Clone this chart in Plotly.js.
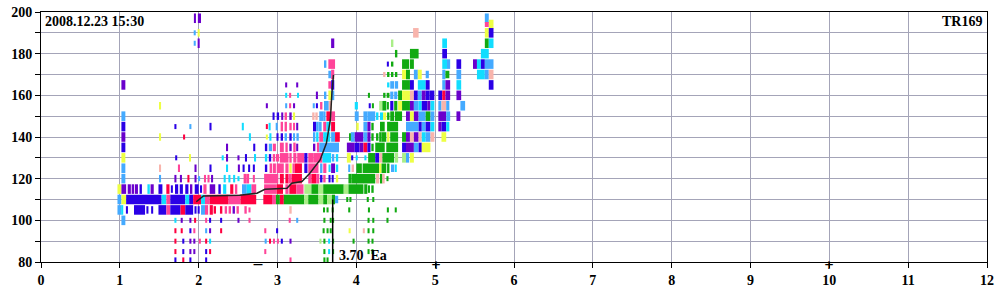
<!DOCTYPE html>
<html><head><meta charset="utf-8">
<script src="https://cdn.plot.ly/plotly-3.0.1.min.js"></script>
<style>html,body{margin:0;padding:0;background:#fff}#chart{width:1000px;height:300px}</style>
</head><body><div id="chart"></div>
<script>
// Echo colour codes
const palette = {B:'#2a00e6',P:'#6a00cc',L:'#44aaff',C:'#11ddff',R:'#ff0040',K:'#ff4499',S:'#f8b4ac',G:'#11aa11',Q:'#aaee88',Y:'#eeff44'};

// Echoes per virtual-height row: [freqStart MHz, freqEnd MHz, colour, amplitude class]
const r197 = [[1.94,1.965,'P',3],[1.99,2.03,'P',3],[5.63,5.68,'L',3]];
const r194 = [[5.68,5.74,'Y',3],[5.63,5.68,'K',1]];
const r190 = [[1.94,1.96,'L',1],[1.99,2.01,'Y',2],[4.72,4.79,'S',3],[5.63,5.68,'Y',3],[5.68,5.74,'B',3]];
const r185 = [[1.94,1.96,'L',1],[1.99,2.01,'P',3],[3.68,3.72,'P',3],[4.44,4.47,'Q',2],[5.09,5.15,'C',3],[5.63,5.68,'G',3],[5.68,5.74,'C',3]];
const r180 = [[4.49,4.52,'G',2],[4.68,4.79,'G',3],[5.09,5.15,'B',3],[5.58,5.68,'C',3]];
const r175 = [[3.59,3.62,'L',2],[3.645,3.73,'K',3],[4.39,4.41,'B',1],[4.44,4.47,'G',1],[4.58,4.67,'G',3],[4.68,4.73,'G',3],[5.09,5.15,'C',3],[5.15,5.19,'L',3],[5.27,5.33,'B',3],[5.48,5.53,'P',3],[5.53,5.58,'C',3],[5.58,5.63,'B',3],[5.63,5.74,'L',3]];
const r170 = [[3.645,3.68,'L',2],[3.68,3.72,'K',3],[4.34,4.37,'S',1],[4.39,4.42,'G',1],[4.44,4.47,'G',1],[4.49,4.52,'G',1],[4.58,4.63,'Y',3],[4.63,4.68,'G',3],[4.73,4.78,'L',3],[4.78,4.83,'Y',3],[4.88,4.92,'L',2],[5.09,5.13,'L',3],[5.13,5.18,'G',2],[5.27,5.33,'L',3],[5.53,5.63,'C',3],[5.63,5.68,'L',3],[5.68,5.74,'S',3]];
const r165 = [[1.02,1.07,'P',3],[3.10,3.12,'P',1],[3.24,3.26,'P',1],[3.645,3.68,'K',2],[3.68,3.72,'B',3],[4.39,4.42,'C',1],[4.43,4.48,'L',2],[4.49,4.53,'L',2],[4.58,4.68,'G',3],[4.68,4.73,'B',3],[4.78,4.88,'C',3],[4.88,4.93,'B',3],[5.09,5.13,'L',3],[5.13,5.19,'P',3],[5.27,5.33,'C',3],[5.68,5.74,'B',3]];
const r160 = [[3.10,3.12,'C',1],[3.15,3.17,'K',1],[3.25,3.27,'C',1],[3.49,3.51,'P',2],[3.59,3.62,'L',2],[3.645,3.68,'Y',3],[3.68,3.72,'L',3],[4.15,4.17,'G',1],[4.34,4.37,'G',1],[4.385,4.42,'G',1],[4.43,4.47,'L',2],[4.48,4.52,'L',2],[4.53,4.58,'G',3],[4.58,4.68,'Y',3],[4.68,4.73,'S',3],[4.73,4.78,'B',3],[4.78,4.83,'L',3],[4.83,4.88,'P',3],[4.88,4.93,'B',3],[4.93,4.99,'B',3],[5.04,5.09,'B',3],[5.09,5.13,'R',3],[5.13,5.19,'P',3],[5.27,5.33,'P',3]];
const r155 = [[1.50,1.52,'Y',2],[2.86,2.87,'P',1],[3.10,3.12,'L',1],[3.15,3.17,'K',1],[3.20,3.22,'P',1],[3.45,3.47,'L',1],[3.49,3.51,'B',1],[3.54,3.57,'K',2],[3.59,3.65,'L',3],[3.65,3.69,'S',3],[3.98,4.02,'C',2],[4.16,4.18,'B',1],[4.20,4.22,'G',1],[4.29,4.33,'Q',3],[4.33,4.38,'G',3],[4.39,4.41,'G',2],[4.43,4.47,'B',3],[4.48,4.52,'G',3],[4.53,4.58,'Y',3],[4.58,4.68,'G',3],[4.68,4.73,'P',3],[4.73,4.79,'L',3],[4.79,4.83,'C',3],[4.83,4.90,'B',3],[4.90,4.94,'P',3],[4.94,4.99,'C',3],[5.04,5.08,'L',3],[5.08,5.14,'S',3],[5.14,5.18,'L',3],[5.32,5.38,'L',3]];
const r150 = [[1.02,1.07,'L',3],[2.94,2.96,'B',2],[2.99,3.02,'B',2],[3.05,3.07,'P',2],[3.09,3.12,'K',2],[3.15,3.18,'P',2],[3.20,3.22,'Y',2],[3.44,3.47,'S',2],[3.48,3.51,'S',2],[3.53,3.58,'L',3],[3.58,3.61,'L',3],[3.62,3.67,'R',3],[3.68,3.73,'K',3],[3.98,4.03,'L',3],[4.09,4.14,'L',3],[4.14,4.24,'L',3],[4.25,4.28,'C',2],[4.30,4.34,'C',2],[4.34,4.38,'Y',2],[4.39,4.42,'G',2],[4.43,4.48,'G',3],[4.49,4.58,'G',3],[4.63,4.68,'P',3],[4.68,4.73,'Y',3],[4.73,4.79,'P',3],[4.79,4.88,'L',3],[4.88,4.94,'G',3],[4.94,4.99,'L',3],[5.04,5.14,'P',3],[5.14,5.19,'L',3],[5.27,5.32,'P',3]];
const r145 = [[1.02,1.07,'B',3],[1.70,1.71,'B',1],[1.89,1.90,'L',1],[2.14,2.16,'B',2],[2.55,2.57,'C',2],[2.86,2.87,'R',1],[2.89,2.91,'C',2],[2.98,3.00,'L',2],[3.04,3.07,'K',3],[3.09,3.12,'K',3],[3.15,3.18,'K',2],[3.20,3.22,'K',2],[3.24,3.26,'P',2],[3.45,3.49,'B',3],[3.49,3.52,'L',3],[3.52,3.56,'L',3],[3.58,3.62,'K',3],[3.62,3.67,'C',3],[3.68,3.73,'R',3],[4.00,4.03,'Y',2],[4.09,4.14,'L',3],[4.14,4.18,'P',3],[4.19,4.22,'G',2],[4.30,4.36,'G',3],[4.39,4.53,'G',3],[4.63,4.79,'L',3],[4.79,4.83,'B',3],[4.83,4.88,'L',3],[4.88,4.94,'B',3],[4.94,4.99,'C',3],[5.04,5.08,'P',3],[5.08,5.14,'B',3],[5.14,5.18,'C',3]];
const r140 = [[1.02,1.07,'P',3],[1.50,1.52,'Y',2],[1.81,1.82,'R',1],[2.64,2.66,'C',2],[2.86,2.87,'Y',1],[2.90,2.92,'C',2],[2.99,3.01,'B',2],[3.04,3.07,'B',2],[3.09,3.12,'L',2],[3.15,3.18,'B',2],[3.20,3.22,'L',2],[3.24,3.27,'L',2],[3.45,3.48,'L',3],[3.49,3.52,'C',3],[3.53,3.58,'K',3],[3.58,3.67,'C',3],[3.68,3.73,'L',3],[3.73,3.79,'R',3],[3.91,3.93,'G',2],[3.93,3.98,'L',3],[3.98,4.09,'P',3],[4.09,4.14,'L',3],[4.14,4.18,'P',3],[4.19,4.22,'G',2],[4.25,4.28,'G',2],[4.29,4.32,'G',3],[4.32,4.38,'G',3],[4.39,4.42,'Y',3],[4.43,4.53,'G',3],[4.58,4.63,'G',3],[4.63,4.68,'P',3],[4.68,4.73,'S',3],[4.73,4.79,'P',3],[4.79,4.83,'S',3],[4.83,4.88,'C',3],[4.88,4.94,'L',3],[4.94,4.99,'S',3],[5.08,5.14,'Y',3]];
const r135 = [[1.02,1.07,'B',3],[2.35,2.37,'P',2],[2.70,2.71,'B',2],[2.84,2.87,'B',2],[2.89,2.93,'L',2],[2.94,2.98,'K',2],[3.03,3.08,'K',3],[3.10,3.13,'K',3],[3.15,3.18,'P',2],[3.20,3.23,'K',3],[3.24,3.26,'P',2],[3.45,3.48,'P',2],[3.50,3.53,'K',3],[3.53,3.78,'L',3],[3.88,3.98,'P',3],[3.98,4.04,'B',3],[4.04,4.09,'P',3],[4.09,4.14,'R',3],[4.14,4.18,'B',3],[4.19,4.22,'G',2],[4.24,4.36,'G',3],[4.38,4.53,'G',3],[4.58,4.63,'B',3],[4.63,4.73,'P',3],[4.73,4.79,'L',3],[4.79,4.83,'B',3],[4.83,4.94,'Y',3]];
const r130 = [[1.02,1.07,'Y',3],[1.71,1.72,'B',1],[1.88,1.90,'Y',2],[2.30,2.31,'C',1],[2.35,2.37,'P',2],[2.50,2.51,'P',1],[2.59,2.61,'B',2],[2.71,2.72,'C',2],[2.84,2.87,'C',2],[2.89,2.92,'B',2],[2.94,2.97,'K',2],[2.98,3.02,'K',2],[3.03,3.14,'K',3],[3.15,3.18,'K',3],[3.20,3.24,'K',3],[3.25,3.34,'K',3],[3.34,3.38,'B',3],[3.39,3.46,'K',3],[3.46,3.57,'K',3],[3.57,3.68,'C',3],[3.69,3.72,'L',2],[3.74,3.77,'C',2],[3.88,3.93,'Y',3],[3.94,3.955,'B',1],[4.00,4.01,'C',1],[4.11,4.12,'C',1],[4.15,4.24,'G',3],[4.24,4.29,'B',3],[4.29,4.33,'S',3],[4.33,4.48,'G',3],[4.49,4.53,'Q',3],[4.58,4.63,'Q',3],[4.63,4.67,'L',3],[4.68,4.73,'Y',3]];
const r125 = [[1.02,1.07,'L',3],[1.50,1.52,'S',2],[1.74,1.76,'K',2],[1.95,1.97,'P',2],[2.14,2.16,'B',2],[2.35,2.37,'C',2],[2.50,2.52,'P',2],[2.56,2.58,'B',2],[2.63,2.65,'B',2],[2.69,2.71,'B',2],[2.84,2.87,'B',2],[2.90,2.93,'K',3],[2.94,2.98,'K',3],[2.99,3.08,'K',3],[3.10,3.14,'K',3],[3.15,3.18,'Y',3],[3.19,3.22,'K',3],[3.22,3.31,'R',3],[3.34,3.38,'B',3],[3.39,3.52,'K',3],[3.54,3.57,'L',3],[3.58,3.62,'K',3],[3.65,3.67,'C',2],[3.68,3.73,'P',3],[3.74,3.77,'C',2],[3.90,3.92,'L',2],[3.94,3.97,'S',2],[4.00,4.07,'G',3],[4.08,4.29,'G',3],[4.29,4.32,'Y',3],[4.32,4.38,'G',3],[4.39,4.42,'G',3],[4.44,4.48,'L',2],[4.49,4.51,'C',2]];
const r120 = [[1.02,1.07,'L',3],[1.50,1.52,'L',2],[1.70,1.71,'P',2],[1.77,1.78,'P',2],[1.86,1.88,'R',2],[1.95,1.97,'P',2],[2.00,2.01,'L',1],[2.07,2.09,'K',2],[2.12,2.13,'K',2],[2.16,2.18,'P',2],[2.32,2.34,'C',2],[2.38,2.40,'C',2],[2.44,2.46,'C',2],[2.50,2.51,'C',1],[2.57,2.61,'K',3],[2.61,2.64,'K',3],[2.69,2.71,'K',2],[2.83,3.01,'K',3],[3.03,3.08,'R',3],[3.10,3.14,'R',3],[3.14,3.18,'K',3],[3.18,3.31,'R',3],[3.39,3.43,'K',3],[3.43,3.49,'R',3],[3.49,3.53,'K',3],[3.54,3.57,'B',2],[3.58,3.61,'K',2],[3.65,3.67,'B',2],[3.69,3.71,'B',2],[3.74,3.77,'Y',2],[3.90,3.94,'G',3],[3.94,4.24,'G',3],[4.25,4.29,'S',3],[4.30,4.33,'G',3],[4.33,4.36,'S',3],[4.39,4.40,'G',1]];
const r115 = [[0.97,1.02,'Y',3],[1.02,1.08,'P',3],[1.10,1.14,'P',3],[1.15,1.18,'P',3],[1.19,1.23,'P',3],[1.25,1.28,'B',3],[1.35,1.38,'C',3],[1.39,1.43,'P',3],[1.49,1.54,'B',3],[1.59,1.63,'R',3],[1.65,1.67,'B',2],[1.70,1.74,'B',3],[1.76,1.80,'B',3],[1.83,1.87,'B',3],[1.89,1.92,'P',3],[1.95,2.00,'B',3],[2.02,2.04,'B',2],[2.06,2.10,'K',3],[2.14,2.21,'P',3],[2.25,2.28,'B',3],[2.31,2.35,'C',3],[2.40,2.44,'R',3],[2.46,2.49,'K',3],[2.55,2.61,'L',3],[2.61,2.67,'C',3],[2.67,2.73,'K',3],[2.83,2.99,'K',3],[2.99,3.07,'R',3],[3.10,3.14,'K',3],[3.15,3.24,'R',3],[3.24,3.33,'K',3],[3.34,3.43,'Q',3],[3.43,3.52,'G',3],[3.52,3.58,'Q',3],[3.58,3.84,'G',3],[3.84,3.90,'Q',3],[3.90,4.09,'G',3],[4.10,4.14,'G',3],[4.15,4.17,'G',2],[4.19,4.22,'G',2]];
const r110 = [[0.97,1.02,'L',3],[1.02,1.08,'Y',3],[1.08,1.53,'B',3],[1.53,1.59,'C',3],[1.59,1.64,'K',3],[1.64,1.83,'B',3],[1.83,1.88,'C',3],[1.88,1.93,'B',3],[1.93,2.03,'R',3],[2.03,2.08,'C',3],[2.08,2.14,'K',3],[2.14,2.38,'R',3],[2.38,2.53,'K',3],[2.53,2.73,'R',3],[2.82,2.93,'R',3],[2.93,2.98,'K',3],[2.98,3.03,'G',3],[3.03,3.08,'R',3],[3.08,3.34,'G',3],[3.34,3.39,'Q',3],[3.39,3.52,'G',3],[3.52,3.58,'Q',3],[3.58,3.63,'G',3],[3.63,3.69,'Q',3],[3.69,3.73,'G',3],[3.73,3.77,'L',2],[3.88,3.89,'G',1],[3.92,3.93,'G',1],[4.14,4.15,'G',1],[4.21,4.22,'G',1]];
const r105 = [[0.97,1.02,'L',3],[1.02,1.04,'C',3],[1.08,1.10,'B',2],[1.18,1.32,'B',3],[1.34,1.36,'B',2],[1.40,1.42,'B',2],[1.49,1.59,'B',3],[1.59,1.64,'K',3],[1.64,1.77,'B',3],[1.77,1.83,'R',3],[1.83,1.93,'B',3],[1.95,1.97,'B',2],[1.99,2.01,'B',2],[2.03,2.08,'L',3],[2.08,2.12,'K',3],[2.14,2.18,'R',3],[2.19,2.22,'R',2],[2.27,2.30,'R',2],[2.33,2.36,'K',2],[2.38,2.41,'K',2],[2.43,2.46,'P',2],[2.48,2.51,'K',2],[2.58,2.61,'K',2],[2.64,2.65,'K',1],[3.15,3.18,'S',2],[3.58,3.60,'G',1],[3.63,3.64,'G',1],[3.69,3.71,'G',1],[3.90,3.92,'G',1],[4.15,4.17,'G',1],[4.39,4.41,'G',1],[4.49,4.51,'G',1]];
const r100 = [[1.02,1.07,'L',3],[1.70,1.71,'C',1],[1.78,1.79,'P',1],[1.89,1.90,'P',1],[1.95,1.96,'R',1],[2.09,2.10,'K',1],[2.14,2.15,'B',1],[2.28,2.29,'B',1],[2.50,2.51,'P',1],[2.64,2.65,'K',1],[3.15,3.16,'K',1],[3.24,3.26,'L',1],[3.59,3.60,'G',1],[3.67,3.68,'G',1],[3.70,3.71,'G',1],[4.15,4.16,'G',1],[4.21,4.22,'G',1],[4.39,4.40,'G',1]];
const r95 = [[1.70,1.71,'R',1],[1.78,1.79,'R',1],[1.89,1.90,'B',1],[1.94,1.95,'K',1],[2.09,2.10,'L',1],[2.14,2.15,'P',1],[2.28,2.29,'R',1],[2.84,2.85,'K',1],[2.99,3.00,'B',1],[3.58,3.59,'G',1],[3.63,3.64,'G',1],[3.67,3.68,'G',1],[3.91,3.92,'Y',1],[4.09,4.10,'S',1],[4.15,4.16,'G',1],[4.21,4.22,'G',1]];
const r90 = [[1.70,1.71,'R',1],[1.80,1.81,'B',1],[1.89,1.90,'P',1],[1.94,1.95,'P',1],[2.01,2.02,'K',1],[2.09,2.10,'R',1],[2.14,2.15,'C',1],[2.84,2.86,'L',1],[2.90,2.91,'R',1],[2.95,2.96,'K',1],[3.00,3.01,'K',1],[3.05,3.06,'B',1],[3.16,3.17,'P',1],[3.54,3.55,'Q',1],[3.59,3.60,'G',1],[3.65,3.66,'C',1],[3.70,3.71,'G',1],[3.96,3.97,'G',1],[4.15,4.16,'G',1],[4.20,4.21,'G',1]];
const r85 = [[1.70,1.71,'R',1],[1.80,1.81,'B',1],[1.89,1.90,'P',1],[1.94,1.95,'P',1],[2.09,2.10,'B',1],[2.14,2.15,'R',1],[2.84,2.85,'K',1],[3.59,3.60,'G',1],[3.65,3.66,'C',1],[3.70,3.71,'G',1],[4.15,4.16,'G',1],[4.20,4.21,'G',1]];
const r81 = [[1.70,1.71,'B',1],[1.80,1.81,'R',1],[1.89,1.90,'B',1],[2.09,2.10,'B',1],[3.16,3.17,'K',1],[3.59,3.60,'G',1],[3.63,3.64,'G',1]];

const rowHeights = [197,194,190,185,180,175,170,165,160,155,150,145,140,135,130,125,120,115,110,105,100,95,90,85,81];
const rowEchoes  = [r197,r194,r190,r185,r180,r175,r170,r165,r160,r155,r150,r145,r140,r135,r130,r125,r120,r115,r110,r105,r100,r95,r90,r85,r81];

// Traced h'(f) curve of the E layer
const curveF = [1.97,2.06,2.52,2.74,2.84,3.12,3.18,3.31,3.41,3.54,3.62,3.67,3.69,3.71];
const curveH = [108.9,111.7,112.0,113.0,114.9,115.4,117.8,118.6,122.6,129.0,137.0,148.2,161.0,169.8];

// Scaled critical frequency and frequency marks under the axis
const foEa = 3.70;
const foEaHeight = [80, 110];
const labelStamp = '2008.12.23 15:30';
const labelStation = 'TR169';
const labelFo = '3.70  Ea';
const markDashF = [2.75];
const markPlusF = [5.01, 10.0];
const markHeight = 78.6;

// ---- build traces ----
const yRange = [80, 200];
const ampThick = {1:2.4, 2:3.6, 3:4.6};
const bx=[], bw=[], bb=[], by=[], bc=[];
rowHeights.forEach((h,i)=>{
  rowEchoes[i].forEach(e=>{
    const w = Math.max(e[1]-e[0], 0.026);
    const t = ampThick[e[3]];
    bx.push((e[0]+e[1])/2); bw.push(w); bb.push(h - t/2); by.push(t); bc.push(palette[e[2]]);
  });
});

const font = 'Liberation Serif, Times New Roman, serif';
const traces = [
  {type:'bar', x:bx, y:by, base:bb, width:bw, marker:{color:bc, line:{width:0}}, hoverinfo:'skip', showlegend:false},
  {type:'scatter', mode:'lines', x:curveF, y:curveH, line:{color:'#222', width:1.5}, hoverinfo:'skip', showlegend:false},
  {type:'scatter', mode:'lines', x:[foEa,foEa], y:foEaHeight, line:{color:'#000', width:1.5}, hoverinfo:'skip', showlegend:false}
];

// marks just below the frequency axis (paper y so they are not hidden as out of range)
const markY = (markHeight - yRange[0]) / (yRange[1] - yRange[0]);
const markAnn = [];
markDashF.forEach(f=>markAnn.push({text:'<b>\u2014</b>', xref:'x', yref:'paper', x:f, y:markY, xanchor:'center', yanchor:'middle', showarrow:false,
   font:{family:'DejaVu Sans', size:10, color:'#000'}}));
markPlusF.forEach(f=>markAnn.push({text:'<b>+</b>', xref:'x', yref:'paper', x:f, y:markY, xanchor:'center', yanchor:'middle', showarrow:false,
   font:{family:'DejaVu Sans', size:12, color:'#000'}}));

const grid = '#a4a4b8';
const layout = {
  width:1000, height:300,
  margin:{l:41, r:13, t:12, b:38, pad:0},
  paper_bgcolor:'#fff', plot_bgcolor:'#fff',
  barmode:'overlay', showlegend:false,
  xaxis:{range:[0,12], tick0:0, dtick:1, showgrid:true, gridcolor:grid, gridwidth:1, zeroline:false,
         ticks:'outside', ticklen:5, tickcolor:'#000', tickwidth:1,
         showline:true, linecolor:'#000', linewidth:1, mirror:true,
         tickfont:{family:font, size:14, color:'#000', weight:'bold'}},
  yaxis:{range:yRange, tick0:80, dtick:20, showgrid:true, gridcolor:grid, gridwidth:1, zeroline:false,
         ticks:'outside', ticklen:5, tickcolor:'#000', tickwidth:1,
         minor:{dtick:10, showgrid:true, gridcolor:grid, gridwidth:1, ticks:'outside', ticklen:5, tickcolor:'#000'},
         showline:true, linecolor:'#000', linewidth:1, mirror:true,
         tickfont:{family:font, size:14, color:'#000', weight:'bold'}},
  annotations:[
    {text:'<b>'+labelStamp+'</b>', xref:'paper', yref:'paper', x:0.002, y:1, xanchor:'left', yanchor:'top', showarrow:false,
     font:{family:font, size:14, color:'#000'}},
    {text:'<b>'+labelStation+'</b>', xref:'paper', yref:'paper', x:0.997, y:1, xanchor:'right', yanchor:'top', showarrow:false,
     font:{family:font, size:14, color:'#000'}},
    {text:'<b>'+labelFo.replace('  ','&nbsp; ')+'</b>', xref:'x', yref:'y', x:foEa+0.05, y:83, xanchor:'left', yanchor:'middle', showarrow:false,
     font:{family:font, size:14, color:'#000'}}
  ].concat(markAnn)
};
Plotly.newPlot('chart', traces, layout, {staticPlot:true, displayModeBar:false});
</script></body></html>
